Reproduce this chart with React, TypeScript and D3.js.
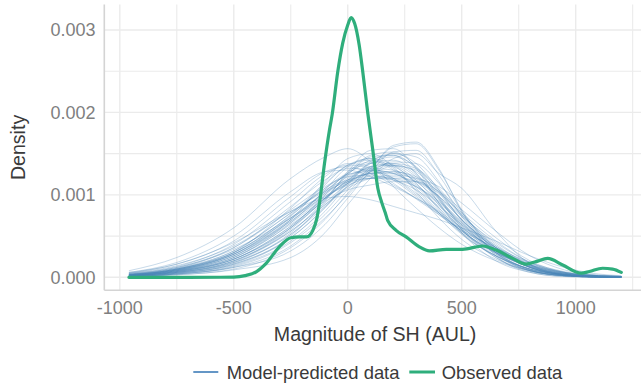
import React from "react";
import * as d3 from "d3";

// Evaluation points shared by every replicated density curve
const gridX = [-960, -750, -500, -250, -100, 0, 100, 200, 300, 400, 500, 650, 800, 950, 1100, 1200];

// Model-predicted densities (units of 1e-4) at gridX, one row per replicate
const yrep: number[][] = [
  [0.2, 0.8, 2.2, 6.0, 9.5, 11.8, 13.0, 12.6, 11.0, 8.4, 6.0, 3.4, 1.5, 0.5, 0.1, 0.05],
  [0.3, 1.0, 3.0, 7.5, 10.8, 12.5, 12.8, 12.0, 10.2, 7.8, 5.6, 3.0, 1.3, 0.4, 0.1, 0.05],
  [0.1, 0.5, 1.5, 4.8, 8.5, 11.6, 13.8, 14.2, 12.6, 9.5, 6.4, 3.2, 1.2, 0.3, 0.05, 0.02],
  [0.4, 1.1, 3.6, 8.6, 11.8, 13.2, 13.0, 11.4, 9.5, 7.6, 5.7, 3.6, 1.8, 0.7, 0.2, 0.1],
  [0.2, 0.6, 1.8, 5.2, 8.8, 11.0, 12.4, 13.5, 13.0, 10.6, 7.4, 3.6, 1.2, 0.3, 0.05, 0.02],
  [0.3, 0.9, 2.6, 7.0, 10.4, 12.6, 13.8, 13.4, 11.4, 8.2, 5.3, 2.6, 1.0, 0.3, 0.1, 0.05],
  [0.1, 0.4, 1.2, 3.8, 7.2, 10.0, 12.8, 15.2, 15.4, 12.4, 8.0, 3.2, 0.9, 0.2, 0.05, 0.02],
  [0.5, 1.3, 4.0, 9.2, 12.5, 13.6, 13.2, 11.8, 9.8, 7.6, 5.4, 3.0, 1.5, 0.6, 0.2, 0.1],
  [0.2, 0.7, 2.0, 5.8, 9.6, 12.4, 14.6, 14.8, 12.6, 9.0, 5.8, 2.6, 0.8, 0.2, 0.05, 0.02],
  [0.3, 1.0, 3.2, 7.8, 10.6, 11.8, 12.2, 12.0, 11.0, 9.0, 6.6, 3.6, 1.5, 0.5, 0.1, 0.05],
  [0.1, 0.5, 1.6, 5.0, 9.2, 12.8, 15.4, 15.6, 13.2, 9.0, 5.4, 2.0, 0.6, 0.1, 0.02, 0.01],
  [0.4, 1.2, 3.4, 7.2, 9.8, 11.2, 12.0, 12.2, 11.6, 9.8, 7.4, 4.2, 1.8, 0.6, 0.2, 0.1],
  [0.2, 0.8, 2.4, 6.6, 10.6, 13.4, 14.4, 13.2, 10.8, 8.0, 5.6, 3.0, 1.2, 0.4, 0.1, 0.05],
  [0.1, 0.3, 1.0, 3.6, 7.0, 10.2, 13.2, 15.8, 16.2, 13.0, 8.2, 3.0, 0.8, 0.2, 0.02, 0.01],
  [0.3, 1.0, 2.8, 6.8, 9.8, 11.6, 12.6, 12.8, 12.0, 9.8, 7.0, 3.6, 1.4, 0.4, 0.1, 0.05],
  [0.6, 1.6, 4.4, 9.8, 12.8, 13.4, 12.6, 11.2, 9.6, 7.8, 5.8, 3.2, 1.4, 0.5, 0.2, 0.1],
  [0.2, 0.6, 1.9, 5.6, 9.0, 11.4, 13.0, 13.8, 13.2, 10.8, 7.6, 3.8, 1.4, 0.3, 0.05, 0.02],
  [0.3, 0.9, 2.8, 7.4, 11.2, 13.6, 14.2, 13.0, 10.6, 7.8, 5.2, 2.6, 1.0, 0.3, 0.1, 0.05],
  [0.2, 0.7, 2.2, 6.2, 9.6, 11.4, 12.0, 12.0, 11.6, 10.2, 7.8, 4.4, 1.8, 0.5, 0.1, 0.05],
  [0.1, 0.4, 1.4, 4.4, 8.0, 11.2, 14.0, 15.0, 13.8, 10.6, 6.8, 2.8, 0.8, 0.2, 0.03, 0.01],
  [0.4, 1.2, 3.6, 8.2, 11.0, 12.2, 12.4, 11.8, 10.6, 8.6, 6.4, 3.6, 1.6, 0.6, 0.2, 0.1],
  [0.2, 0.6, 2.0, 6.0, 10.0, 12.8, 14.0, 13.6, 11.8, 8.8, 5.8, 2.8, 1.0, 0.3, 0.05, 0.02],
  [0.3, 0.8, 2.4, 6.4, 9.2, 10.6, 11.2, 11.6, 11.6, 10.4, 8.2, 4.8, 2.0, 0.6, 0.1, 0.05],
  [0.2, 0.7, 2.4, 7.0, 11.6, 14.4, 15.0, 13.4, 10.4, 7.2, 4.6, 2.2, 0.8, 0.2, 0.05, 0.02],
  [0.1, 0.5, 1.7, 5.2, 8.6, 11.0, 12.8, 14.0, 13.8, 11.4, 7.8, 3.6, 1.2, 0.3, 0.05, 0.02],
  [0.5, 1.4, 3.8, 8.0, 10.4, 11.6, 12.0, 11.8, 11.0, 9.2, 6.8, 3.8, 1.7, 0.6, 0.2, 0.1],
  [0.2, 0.8, 2.6, 6.8, 10.0, 12.0, 13.4, 13.8, 12.4, 9.4, 6.2, 2.9, 1.0, 0.3, 0.05, 0.02],
  [0.3, 0.9, 3.0, 8.4, 12.2, 13.8, 13.4, 12.0, 10.0, 7.8, 5.6, 3.0, 1.3, 0.4, 0.1, 0.05],
  [0.1, 0.4, 1.3, 4.2, 7.6, 10.6, 13.4, 15.0, 14.6, 11.6, 7.4, 3.0, 0.9, 0.2, 0.03, 0.01],
  [0.2, 0.7, 2.2, 6.0, 9.4, 11.8, 13.4, 13.6, 12.2, 9.6, 6.6, 3.2, 1.2, 0.3, 0.05, 0.02],
  [0.4, 1.1, 3.2, 7.8, 10.8, 12.4, 13.0, 12.6, 11.2, 8.8, 6.2, 3.2, 1.3, 0.4, 0.1, 0.05],
  [0.2, 0.6, 1.8, 5.4, 9.4, 12.6, 14.8, 15.2, 13.4, 9.8, 6.0, 2.4, 0.7, 0.2, 0.03, 0.01],
  [0.3, 1.0, 3.0, 7.2, 10.2, 11.8, 12.6, 12.6, 11.8, 9.8, 7.0, 3.4, 1.2, 0.3, 0.05, 0.02],
  [0.2, 0.8, 2.6, 6.6, 9.6, 11.4, 12.8, 13.6, 12.8, 10.2, 7.0, 3.4, 1.2, 0.3, 0.05, 0.02],
  [0.6, 1.8, 5.0, 10.4, 12.8, 13.0, 12.2, 11.0, 9.6, 8.0, 6.0, 3.4, 1.5, 0.5, 0.2, 0.1],
  [0.2, 0.5, 1.6, 4.8, 8.4, 11.4, 13.8, 14.6, 13.4, 10.4, 7.0, 3.0, 0.9, 0.2, 0.03, 0.01],
  [0.3, 0.9, 2.8, 7.0, 10.2, 12.2, 13.2, 13.0, 11.6, 9.2, 6.4, 3.2, 1.2, 0.4, 0.1, 0.05],
  [0.1, 0.4, 1.2, 3.2, 6.4, 9.6, 13.0, 16.0, 16.4, 13.2, 8.0, 2.6, 0.6, 0.1, 0.02, 0.01],
  [0.3, 1.0, 3.0, 7.6, 11.4, 13.6, 14.4, 13.6, 11.4, 8.4, 5.4, 2.6, 1.0, 0.3, 0.05, 0.02],
  [0.2, 0.7, 2.2, 6.2, 9.6, 11.6, 12.6, 12.8, 12.2, 10.4, 7.6, 4.0, 1.5, 0.4, 0.1, 0.05],
  [0.8, 2.4, 6.0, 12.0, 14.6, 15.6, 14.0, 11.0, 8.4, 6.0, 4.0, 2.0, 0.8, 0.3, 0.1, 0.05],
  [0.1, 0.3, 0.9, 2.4, 5.4, 8.8, 12.0, 14.4, 15.0, 12.6, 10.8, 5.6, 1.6, 0.3, 0.05, 0.02],
  [0.2, 0.6, 2.0, 5.6, 8.8, 10.8, 12.0, 12.4, 12.0, 11.0, 9.0, 5.6, 2.6, 0.9, 0.3, 0.1],
  [0.3, 0.9, 2.8, 7.2, 10.4, 12.6, 14.2, 14.8, 13.2, 9.6, 5.8, 2.4, 0.8, 0.2, 0.03, 0.01],
  [0.5, 1.6, 4.2, 8.0, 9.6, 9.8, 9.4, 8.6, 7.8, 7.0, 6.0, 4.4, 2.6, 1.2, 0.4, 0.2],
];

// Observed density curve
const obsX = [-960, -700, -500, -450, -400, -358, -300, -250, -210, -180, -153, -135, -124, -102, -80, -68, -44, -22, 0, 15, 30, 50, 66, 88, 110, 132, 150, 165, 175, 212, 256, 314, 358, 432, 504, 592, 651, 724, 782, 826, 877, 943, 1024, 1060, 1118, 1162, 1200];
const obsY = [0, 0, 0.000002, 0.00002, 0.00007, 0.00017, 0.00037, 0.00048, 0.00049, 0.00049, 0.00057, 0.00072, 0.0009, 0.00138, 0.00179, 0.00198, 0.00249, 0.00284, 0.00306, 0.00315, 0.00308, 0.00282, 0.00249, 0.00199, 0.00154, 0.00108, 0.0009, 0.00078, 0.00069, 0.00057, 0.00049, 0.00037, 0.00032, 0.00034, 0.00034, 0.00038, 0.00033, 0.00023, 0.00016, 0.00019, 0.00023, 0.00015, 0.00005, 0.00007, 0.00011, 0.0001, 0.00006];

const xMajor = [-1000, -500, 0, 500, 1000];
const xMinor = [-750, -250, 250, 750, 1250];
const yMajor = [0, 0.001, 0.002, 0.003];
const yMinor = [0.0005, 0.0015, 0.0025];

const legendLabels = ["Model-predicted data", "Observed data"];

const W = 641;
const H = 386;
const FONT = "'Liberation Sans', Arial, Helvetica, sans-serif";
const BLUE = "#4a83b6";
const GREEN = "#2fae7c";

export default function App() {
  const xExt = [-960, 1200];
  const xPad = (xExt[1] - xExt[0]) * 0.05;
  const yMax = d3.max(obsY) as number;
  const yPad = yMax * 0.05;

  const x = d3.scaleLinear().domain([xExt[0] - xPad, xExt[1] + xPad]).range([104.3, 645.9]);
  const y = d3.scaleLinear().domain([-yPad, yMax + yPad]).range([290.3, 4.6]);

  const [px0, px1] = x.range();
  const [py0, py1] = y.range();

  const line = d3
    .line<[number, number]>()
    .x((d) => x(d[0]))
    .y((d) => y(d[1]))
    .curve(d3.curveMonotoneX);

  const repPaths = yrep.map((row) => line(gridX.map((gx, i) => [gx, row[i] * 1e-4] as [number, number])) || "");
  const obsPath = line(obsX.map((ox, i) => [ox, obsY[i]] as [number, number])) || "";

  const tickColor = "#7f7f7f";

  return (
    <svg
      width={W}
      height={H}
      style={{ position: "absolute", left: 0, top: 0, background: "#fff" }}
      fontFamily={FONT}
    >
      <rect x={0} y={0} width={W} height={H} fill="#fff" />
      {/* grid */}
      <g stroke="#ebebeb" fill="none">
        {xMinor.map((v) => (
          <line key={"xm" + v} x1={x(v)} x2={x(v)} y1={py1} y2={py0} strokeWidth={1.1} />
        ))}
        {yMinor.map((v) => (
          <line key={"ym" + v} x1={px0} x2={px1} y1={y(v)} y2={y(v)} strokeWidth={1.1} />
        ))}
        {xMajor.map((v) => (
          <line key={"xM" + v} x1={x(v)} x2={x(v)} y1={py1} y2={py0} strokeWidth={1.4} />
        ))}
        {yMajor.map((v) => (
          <line key={"yM" + v} x1={px0} x2={px1} y1={y(v)} y2={y(v)} strokeWidth={1.4} />
        ))}
      </g>
      {/* axis lines */}
      <g stroke="#d4d4d4" strokeWidth={1.6}>
        <line x1={px0} x2={px0} y1={py1} y2={py0} />
        <line x1={px0} x2={px1} y1={py0} y2={py0} />
      </g>
      {/* replicated densities */}
      <g fill="none" stroke={BLUE} strokeWidth={1} strokeOpacity={0.3}>
        {repPaths.map((d, i) => (
          <path key={i} d={d} />
        ))}
      </g>
      {/* observed density */}
      <path d={obsPath} fill="none" stroke={GREEN} strokeWidth={3.2} strokeLinejoin="round" strokeLinecap="round" />
      {/* y tick labels */}
      <g fill={tickColor} fontSize={18} textAnchor="end">
        {yMajor.map((v) => (
          <text key={v} x={95.5} y={y(v) + 6.5}>
            {d3.format(".3f")(v)}
          </text>
        ))}
      </g>
      {/* x tick labels */}
      <g fill={tickColor} fontSize={18} textAnchor="middle">
        {xMajor.map((v) => (
          <text key={v} x={x(v)} y={313.5}>
            {String(v)}
          </text>
        ))}
      </g>
      {/* axis titles */}
      <text x={(px0 + px1) / 2} y={340.5} textAnchor="middle" fontSize={19.6} fill="#3a3a3a">
        Magnitude of SH (AUL)
      </text>
      <text
        transform={`translate(25,${(py0 + py1) / 2}) rotate(-90)`}
        textAnchor="middle"
        fontSize={19.6}
        fill="#3a3a3a"
      >
        Density
      </text>
      {/* legend */}
      <g fontSize={18.4} fill="#3a3a3a">
        <line x1={193.3} x2={218.3} y1={372} y2={372} stroke="#6496c6" strokeWidth={2} />
        <text x={226.7} y={378.5}>{legendLabels[0]}</text>
        <line x1={409.3} x2={435} y1={372} y2={372} stroke={GREEN} strokeWidth={3} />
        <text x={441.7} y={378.5}>{legendLabels[1]}</text>
      </g>
    </svg>
  );
}
